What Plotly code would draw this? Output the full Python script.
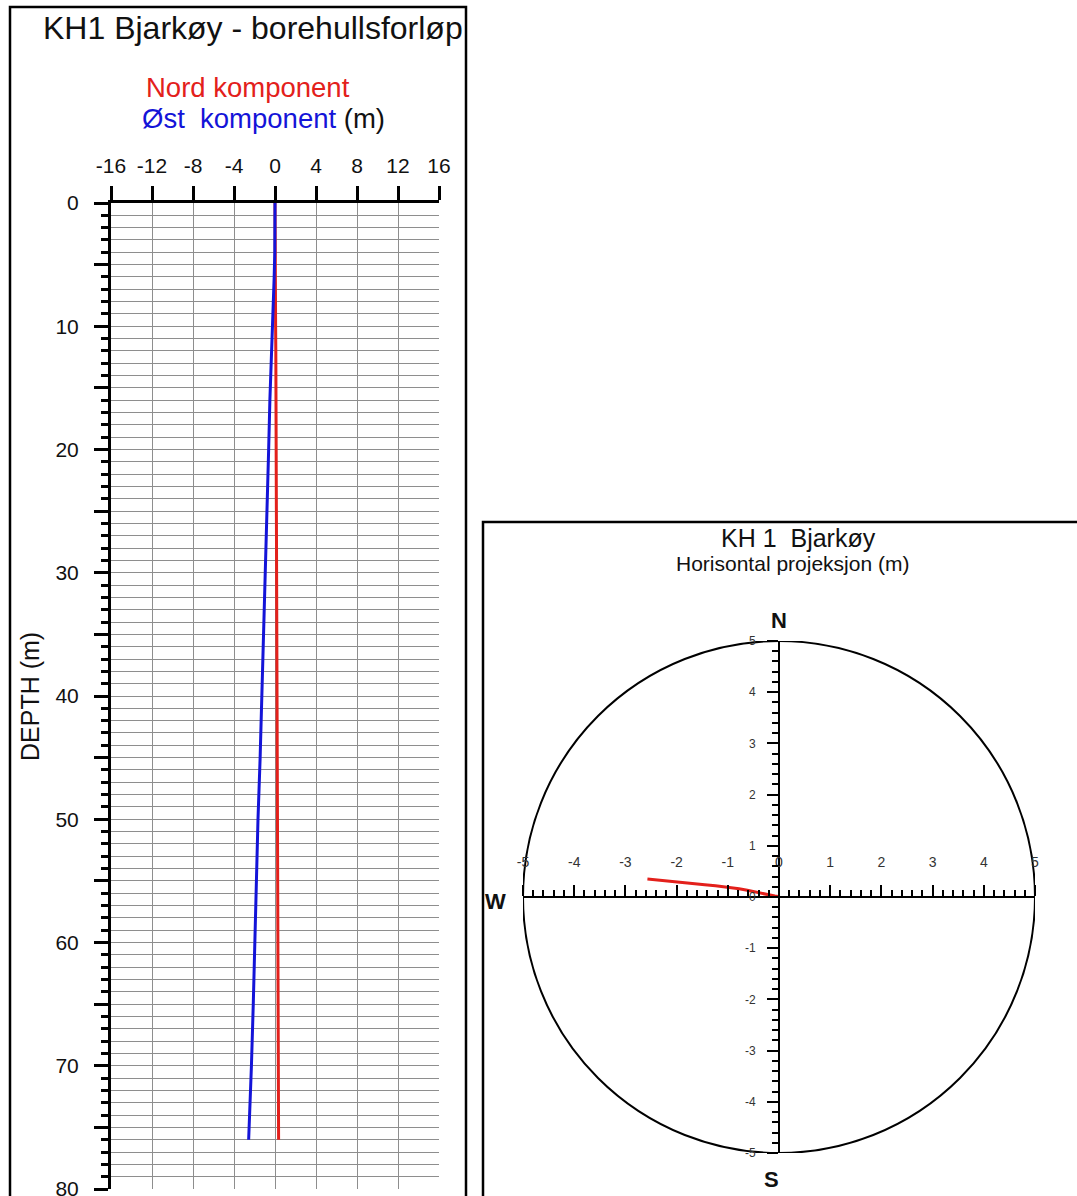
import plotly.graph_objects as go

# ---- data ----
depth = [0, 2, 4, 6, 8, 10, 12, 14, 16, 20, 25, 30, 35, 40, 45, 50, 55, 60, 65, 70, 76]
east = [0, 0, -0.02, -0.08, -0.17, -0.27, -0.35, -0.42, -0.5, -0.62, -0.78, -0.92,
        -1.08, -1.24, -1.45, -1.66, -1.8, -1.95, -2.12, -2.3, -2.57]
north = [0, 0, 0.01, 0.02, 0.04, 0.06, 0.08, 0.09, 0.1, 0.13, 0.16, 0.18, 0.2,
         0.22, 0.24, 0.26, 0.28, 0.29, 0.31, 0.33, 0.35]
top_ticks = [-16, -12, -8, -4, 0, 4, 8, 12, 16]
depth_ticks = list(range(0, 81, 5))
depth_labels = [str(d) if d % 10 == 0 else "" for d in depth_ticks]
proj_ticks = [-5, -4, -3, -2, -1, 0, 1, 2, 3, 4, 5]

W, H = 1077, 1196
FONT = "Liberation Sans, Arial, sans-serif"
RED = "#e3201b"
BLUE = "#1414d8"
GRID = "#8e8e8e"


def px(x):
    return x / W


def py(y):
    return 1 - y / H


fig = go.Figure()

fig.add_trace(go.Scatter(x=north, y=depth, mode="lines", line=dict(color=RED, width=3),
                         xaxis="x", yaxis="y", showlegend=False, hoverinfo="skip"))
fig.add_trace(go.Scatter(x=east, y=depth, mode="lines", line=dict(color=BLUE, width=3),
                         xaxis="x", yaxis="y", showlegend=False, hoverinfo="skip"))
fig.add_trace(go.Scatter(x=east, y=north, mode="lines", line=dict(color=RED, width=3),
                         xaxis="x2", yaxis="y2", showlegend=False, hoverinfo="skip"))

fig.update_layout(
    width=W, height=H, autosize=False, margin=dict(l=0, r=0, t=0, b=0, pad=0),
    paper_bgcolor="white", plot_bgcolor="white",
    font=dict(family=FONT, color="#111"),
    xaxis=dict(
        domain=[px(111), px(439)], range=[-16, 16], side="top", anchor="y",
        tickmode="array", tickvals=top_ticks, ticktext=[str(t) for t in top_ticks],
        ticks="outside", ticklen=14, tickwidth=2.5, tickcolor="black",
        showline=True, linecolor="black", linewidth=3,
        showgrid=True, gridcolor=GRID, gridwidth=1, zeroline=False,
        tickfont=dict(size=21, color="#111"), ticklabelstandoff=5, fixedrange=True,
        automargin=False, ticklabeloverflow="allow",
    ),
    yaxis=dict(
        domain=[py(1189), py(203)], range=[80.0001, 0], anchor="x",
        tickmode="array", tickvals=depth_ticks, ticktext=depth_labels,
        ticks="outside", ticklen=14, tickwidth=2.5, tickcolor="black",
        showline=True, linecolor="black", linewidth=3,
        showgrid=True, gridcolor=GRID, gridwidth=1, zeroline=False,
        minor=dict(tickmode="linear", tick0=0, dtick=1, ticks="outside", ticklen=7,
                   tickwidth=2.5, tickcolor="black", showgrid=True,
                   gridcolor=GRID, gridwidth=1),
        tickfont=dict(size=21, color="#111"), ticklabelstandoff=11, fixedrange=True,
        automargin=False, ticklabeloverflow="allow",
    ),
    xaxis2=dict(
        domain=[px(523), px(1035)], range=[-5, 5], anchor="free", position=py(897),
        side="top", tickmode="array", tickvals=proj_ticks,
        ticktext=[str(t) for t in proj_ticks],
        ticks="outside", ticklen=11, tickwidth=1.5, tickcolor="black",
        minor=dict(tickmode="linear", tick0=0, dtick=0.2, ticks="outside", ticklen=6,
                   tickwidth=1.5, tickcolor="black", showgrid=False),
        showline=True, linecolor="black", linewidth=2, showgrid=False, zeroline=False,
        tickfont=dict(size=14, color="#333"), ticklabelstandoff=12, fixedrange=True,
        automargin=False, ticklabeloverflow="allow",
    ),
    yaxis2=dict(
        domain=[py(1153), py(641)], range=[-5, 5], anchor="free", position=px(779),
        side="left", tickmode="array", tickvals=proj_ticks,
        ticktext=[str(t) for t in proj_ticks],
        ticks="outside", ticklen=11, tickwidth=1.5, tickcolor="black",
        minor=dict(tickmode="linear", tick0=0, dtick=0.2, ticks="outside", ticklen=6,
                   tickwidth=1.5, tickcolor="black", showgrid=False),
        showline=True, linecolor="black", linewidth=2, showgrid=False, zeroline=False,
        tickfont=dict(size=12, color="#333"), ticklabelstandoff=9, fixedrange=True,
        automargin=False, ticklabeloverflow="allow",
    ),
)

shapes = [
    dict(type="rect", xref="paper", yref="paper", x0=px(10), x1=px(466), y0=-0.05,
         y1=py(7), line=dict(color="black", width=2.5), fillcolor="rgba(0,0,0,0)",
         layer="above"),
    dict(type="rect", xref="paper", yref="paper", x0=px(483), x1=1.05, y0=-0.05,
         y1=py(522), line=dict(color="black", width=2.5), fillcolor="rgba(0,0,0,0)",
         layer="above"),
    dict(type="circle", xref="x2", yref="y2", x0=-5, x1=5, y0=-5, y1=5,
         line=dict(color="black", width=2), layer="below"),
]
fig.update_layout(shapes=shapes)

ann = [
    dict(text="KH1 Bjarkøy - borehullsforløp", x=px(253), y=py(28), size=32, color="#111"),
    dict(text="Nord komponent", x=px(144), y=py(87), size=27.5, color=RED, xanchor="left"),
    dict(text="<span style='color:%s'>Øst\u00a0 komponent</span> (m)" % BLUE,
         x=px(140), y=py(119), size=27.5, color="#111", xanchor="left"),
    dict(text="DEPTH (m)", x=px(30), y=py(697), size=25, color="#111", textangle=-90),
    dict(text="KH 1\u00a0 Bjarkøy", x=px(798), y=py(538), size=25, color="#111"),
    dict(text="Horisontal projeksjon (m)", x=px(792), y=py(563), size=21, color="#111"),
    dict(text="<b>N</b>", x=px(779), y=py(620), size=22, color="#111"),
    dict(text="<b>S</b>", x=px(771), y=py(1179), size=22, color="#111"),
    dict(text="<b>W</b>", x=px(495), y=py(901), size=22, color="#111"),
    dict(text="<b>E</b>", x=px(1084), y=py(897), size=22, color="#111"),
]
annotations = []
for a in ann:
    annotations.append(dict(
        text=a["text"], x=a["x"], y=a["y"], xref="paper", yref="paper",
        xanchor=a.get("xanchor", "center"), yanchor="middle", showarrow=False,
        textangle=a.get("textangle", 0),
        font=dict(family=FONT, size=a["size"], color=a["color"]),
    ))
fig.update_layout(annotations=annotations)

fig.write_html("out.html", config={"displayModeBar": False},
               post_script="document.body.style.margin='0';")
